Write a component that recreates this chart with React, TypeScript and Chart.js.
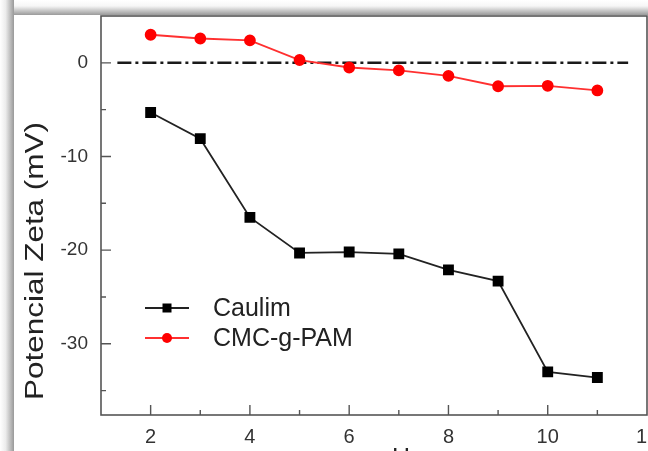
import React, { useEffect, useRef } from "react";
import { Chart, registerables } from "chart.js";

Chart.register(...registerables);

// ---- data ----
const phValues = [2, 3, 4, 5, 6, 7, 8, 9, 10, 11];
const caulim = [-5.3, -8.1, -16.5, -20.3, -20.2, -20.4, -22.1, -23.3, -33.0, -33.6];
const cmcGPam = [3.0, 2.6, 2.4, 0.3, -0.5, -0.8, -1.4, -2.5, -2.45, -2.95];
const seriesLabels = ["Caulim", "CMC-g-PAM"];
const zeroLineX = [1.33, 11.62];
const zeroLineY = [0, 0];
const xTickValues = [1, 2, 3, 4, 5, 6, 7, 8, 9, 10, 11, 12];
const xMajorTicks = [2, 4, 6, 8, 10, 12];
const yTickValues = [-35, -30, -25, -20, -15, -10, -5, 0, 5];
const yMajorTicks = [-30, -20, -10, 0];
const yAxisTitle = "Potencial Zeta (mV)";
const xAxisTitle = "pH";

const FONT = "'Liberation Sans', Arial, Helvetica, sans-serif";

export default function App() {
  const ref = useRef<HTMLCanvasElement | null>(null);

  useEffect(() => {
    const canvas = ref.current;
    if (!canvas) return;

    const decorPlugin = {
      id: "decor",
      beforeDatasetsDraw(chart: any) {
        const { ctx, chartArea } = chart;
        const { left, right, top, bottom } = chartArea;
        ctx.save();
        ctx.strokeStyle = "#555";
        ctx.lineWidth = 1.6;
        ctx.strokeRect(left, top, right - left, bottom - top);
        // inward ticks
        const xs = chart.scales.x;
        const ys = chart.scales.y;
        ctx.lineWidth = 1.4;
        ctx.beginPath();
        xs.ticks.forEach((t: any) => {
          const px = xs.getPixelForValue(t.value);
          if (px <= left + 1 || px >= right - 1) return;
          const len = xMajorTicks.includes(t.value) ? 10 : 5;
          ctx.moveTo(px, bottom);
          ctx.lineTo(px, bottom - len);
        });
        ys.ticks.forEach((t: any) => {
          const py = ys.getPixelForValue(t.value);
          if (py <= top + 1 || py >= bottom - 1) return;
          const len = yMajorTicks.includes(t.value) ? 10 : 5;
          ctx.moveTo(left, py);
          ctx.lineTo(left + len, py);
        });
        ctx.stroke();
        ctx.restore();
      },
      afterDraw(chart: any) {
        const { ctx } = chart;
        ctx.save();
        // legend
        const rows = [308, 338];
        seriesLabels.forEach((lab, i) => {
          const ds = chart.data.datasets[i];
          const y = rows[i];
          ctx.strokeStyle = ds.borderColor;
          ctx.lineWidth = 1.8;
          ctx.beginPath();
          ctx.moveTo(145, y);
          ctx.lineTo(189, y);
          ctx.stroke();
          ctx.fillStyle = ds.pointBackgroundColor;
          if (ds.pointStyle === "rect") {
            ctx.fillRect(167 - 4.5, y - 4.5, 9, 9);
          } else {
            ctx.beginPath();
            ctx.arc(167, y, 5, 0, Math.PI * 2);
            ctx.fill();
          }
          ctx.fillStyle = "#222";
          ctx.font = `25px ${FONT}`;
          ctx.textBaseline = "middle";
          ctx.textAlign = "left";
          ctx.fillText(lab, 213, y + 1);
        });
        // y axis title (rotated)
        ctx.font = `25px ${FONT}`;
        ctx.fillStyle = "#222";
        ctx.textBaseline = "alphabetic";
        ctx.textAlign = "center";
        const w = ctx.measureText(yAxisTitle).width;
        const sx = 278 / w;
        ctx.translate(43, 261);
        ctx.rotate(-Math.PI / 2);
        ctx.scale(sx, 1);
        ctx.fillText(yAxisTitle, 0, 0);
        ctx.setTransform(1, 0, 0, 1, 0, 0);
        // x axis title (cut off at bottom)
        ctx.font = `25px ${FONT}`;
        ctx.textAlign = "left";
        ctx.fillText(xAxisTitle, 378, 466);
        ctx.restore();
      },
    };

    const chart = new Chart(canvas, {
      type: "line",
      data: {
        datasets: [
          {
            label: seriesLabels[0],
            data: phValues.map((x, i) => ({ x, y: caulim[i] })),
            borderColor: "#222",
            backgroundColor: "#000",
            pointBackgroundColor: "#000",
            pointBorderColor: "#000",
            pointStyle: "rect",
            pointRadius: 6.4,
            borderWidth: 1.8,
          } as any,
          {
            label: seriesLabels[1],
            data: phValues.map((x, i) => ({ x, y: cmcGPam[i] })),
            borderColor: "#ff3030",
            backgroundColor: "#ff0000",
            pointBackgroundColor: "#ff0000",
            pointBorderColor: "#ff0000",
            pointStyle: "circle",
            pointRadius: 5,
            borderWidth: 1.8,
          } as any,
          {
            label: "zero",
            data: zeroLineX.map((x, i) => ({ x, y: zeroLineY[i] })),
            borderColor: "#1a1a1a",
            borderWidth: 2.5,
            borderDash: [14, 4, 3, 4],
            pointRadius: 0,
          } as any,
        ],
      },
      options: {
        animation: false,
        responsive: false,
        devicePixelRatio: 1,
        layout: { padding: { top: 16, left: 0, right: 53, bottom: 0 } },
        plugins: { legend: { display: false }, tooltip: { enabled: false }, title: { display: false } },
        scales: {
          x: {
            type: "linear",
            min: 1,
            max: 12,
            afterBuildTicks: (s: any) => {
              s.ticks = xTickValues.map((v) => ({ value: v }));
            },
            afterFit: (s: any) => {
              s.height = 36;
              s.paddingLeft = 0;
              s.paddingRight = 0;
              s.paddingTop = 0;
              s.paddingBottom = 0;
            },
            grid: { display: false, drawTicks: false },
            border: { display: false },
            ticks: {
              autoSkip: false,
              maxRotation: 0,
              padding: 10,
              color: "#333",
              font: { family: FONT, size: 20 },
              callback: (v: any) => (xMajorTicks.includes(Number(v)) ? String(v) : ""),
            },
          },
          y: {
            type: "linear",
            min: -37.6,
            max: 5,
            afterBuildTicks: (s: any) => {
              s.ticks = yTickValues.map((v) => ({ value: v }));
            },
            afterFit: (s: any) => {
              s.width = 101;
              s.paddingLeft = 0;
              s.paddingRight = 0;
              s.paddingTop = 0;
              s.paddingBottom = 0;
            },
            grid: { display: false, drawTicks: false },
            border: { display: false },
            ticks: {
              autoSkip: false,
              padding: 13,
              color: "#333",
              font: { family: FONT, size: 19 },
              callback: (v: any) => (yMajorTicks.includes(Number(v)) ? String(v) : ""),
            },
          },
        },
      },
      plugins: [decorPlugin],
    });

    return () => chart.destroy();
  }, []);

  return (
    <div
      style={{
        position: "fixed",
        left: 0,
        top: 0,
        width: 648,
        height: 451,
        overflow: "hidden",
        background: "#fff",
      }}
    >
      <div
        style={{
          position: "absolute",
          left: 0,
          top: 0,
          width: 648,
          height: 15,
          background: "linear-gradient(to bottom, #ffffff 0%, #f6f6f6 40%, #9a9a9a 100%)",
        }}
      />
      <div
        style={{
          position: "absolute",
          left: 0,
          top: 0,
          width: 14,
          height: 451,
          background: "linear-gradient(to right, #ffffff 0%, #ececec 40%, #999999 100%)",
        }}
      />
      <canvas
        ref={ref}
        width={700}
        height={451}
        style={{ position: "absolute", left: 0, top: 0 }}
      />
    </div>
  );
}
